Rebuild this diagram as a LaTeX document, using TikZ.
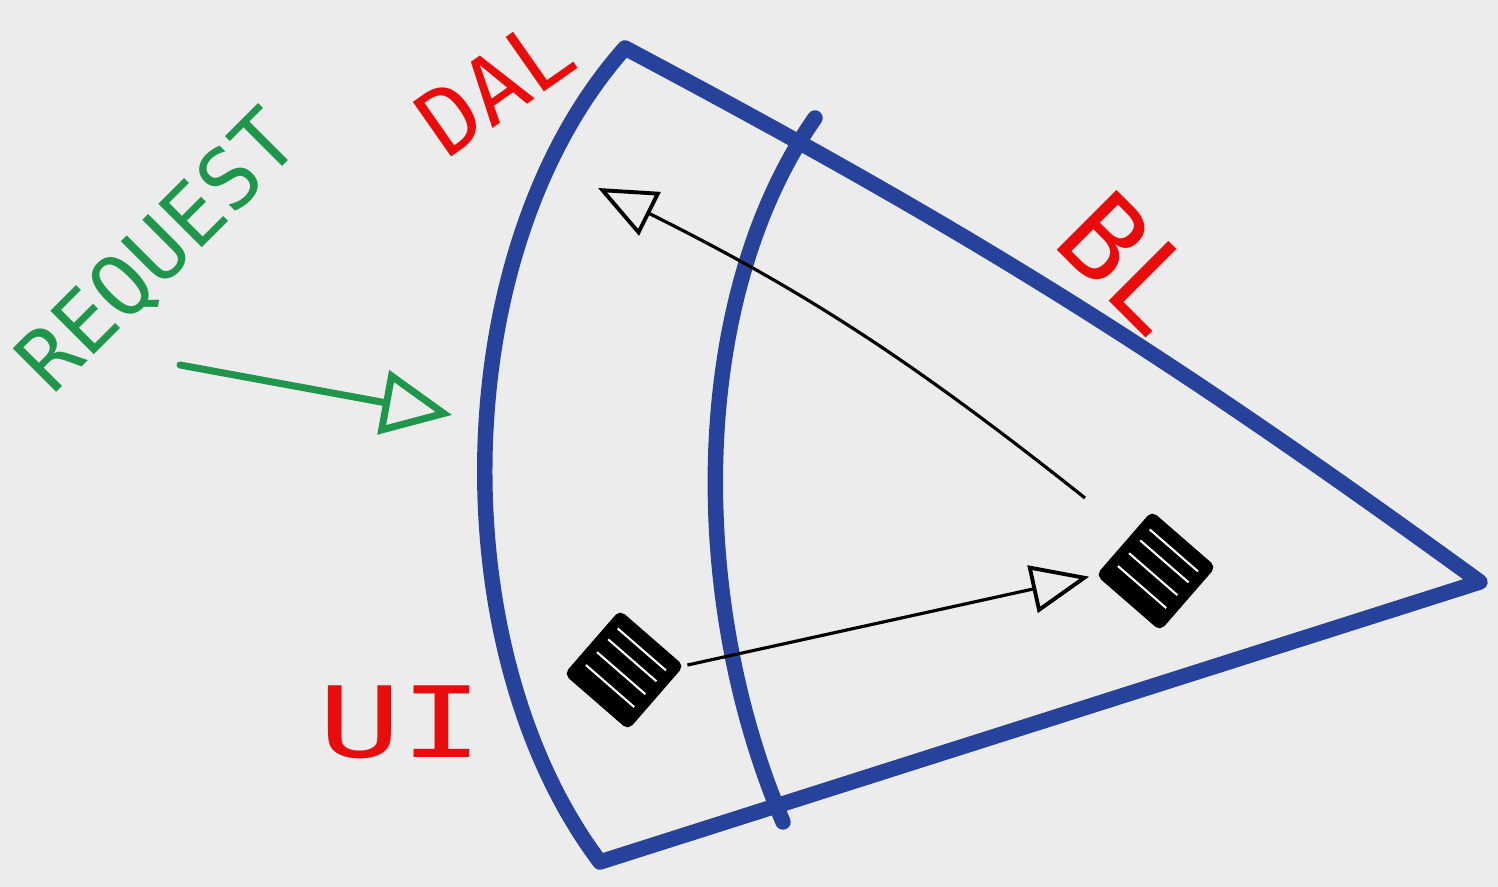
\documentclass[tikz,border=0pt]{standalone}
\usepackage{fontspec}
\usetikzlibrary{arrows.meta, calc}
\newfontfamily\handfont{DejaVu Sans Mono}
\definecolor{paper}{RGB}{236,236,236}
\definecolor{layerblue}{RGB}{38,66,155}
\definecolor{labelred}{RGB}{232,12,12}
\definecolor{reqgreen}{RGB}{32,150,76}
\tikzset{
  layer/.style   = {draw=layerblue, line width=4.4pt, line cap=round, line join=round},
  lbl/.style     = {text=labelred, inner sep=0pt},
  compbox/.style = {rectangle, draw=black, fill=black, line width=2pt,
                    minimum size=7.8mm, inner sep=0pt, rotate=49, rounded corners=1pt},
  streak/.style  = {white, line width=0.6pt, shorten <=3pt, shorten >=3pt},
  call/.style    = {-{Triangle[open, length=5.8mm, width=4.8mm, line width=1.1pt]},
                    line width=0.9pt, black},
}

\begin{document}
\begin{tikzpicture}[
    req/.style={-{Triangle[open, length=7mm, width=6.4mm, line width=2pt]},
                line width=2pt, reqgreen, line cap=round}
]
\useasboundingbox (0,0) rectangle (14.98,8.87);
\fill[paper] (0,0) rectangle (14.98,8.87);

% ---------------- layers ----------------
\coordinate (top) at (6.25,8.39);
\coordinate (tip) at (14.80,3.05);
\coordinate (bot) at (6.00,0.25);

\draw[layer] (top) to[bend left=4] (tip) -- (bot)
  .. controls (4.40,2.37) and (4.45,6.37) .. cycle;

\draw[layer] (8.15,7.69) .. controls (6.88,5.87) and (6.88,2.87) .. (7.83,0.65);

% ---------------- labels ----------------
\node[lbl, rotate=35, font=\handfont\fontsize{26}{26}\selectfont] (dal) at (4.95,8.01) {DAL};
\node[lbl, rotate=-45, font=\handfont\fontsize{33}{33}\selectfont] (bl) at (11.30,6.24) {BL};
\node[lbl, xscale=1.4, font=\handfont\fontsize{28}{28}\selectfont] (ui) at (4.01,1.65) {UI};
\node[text=reqgreen, inner sep=0pt, rotate=45, font=\handfont\fontsize{24}{24}\selectfont]
  (request) at (1.60,6.34) {REQUEST};

% ---------------- components ----------------
\node[compbox] (uiBox) at (6.24,2.17) {};
\node[compbox] (blBox) at (11.56,3.16) {};

\foreach \f in {0.25,0.45,0.65,0.82} {
  \draw[streak] ($(uiBox.north west)!\f!(uiBox.north east)$) -- ($(uiBox.south west)!\f!(uiBox.south east)$);
  \draw[streak] ($(blBox.north west)!\f!(blBox.north east)$) -- ($(blBox.south west)!\f!(blBox.south east)$);
}

% ---------------- arrows ----------------
\coordinate (retStart) at (10.85,3.89);
\coordinate (dalEnd) at (5.98,6.99);
\coordinate (reqStart) at (1.80,5.22);
\coordinate (reqEnd) at (4.52,4.72);

\draw[call, shorten <=1pt, shorten >=2pt] (uiBox.south east) -- (blBox.north west);
\draw[call] (retStart) to[bend right=6] (dalEnd);
\draw[req] (reqStart) -- (reqEnd);

\end{tikzpicture}
\end{document}
